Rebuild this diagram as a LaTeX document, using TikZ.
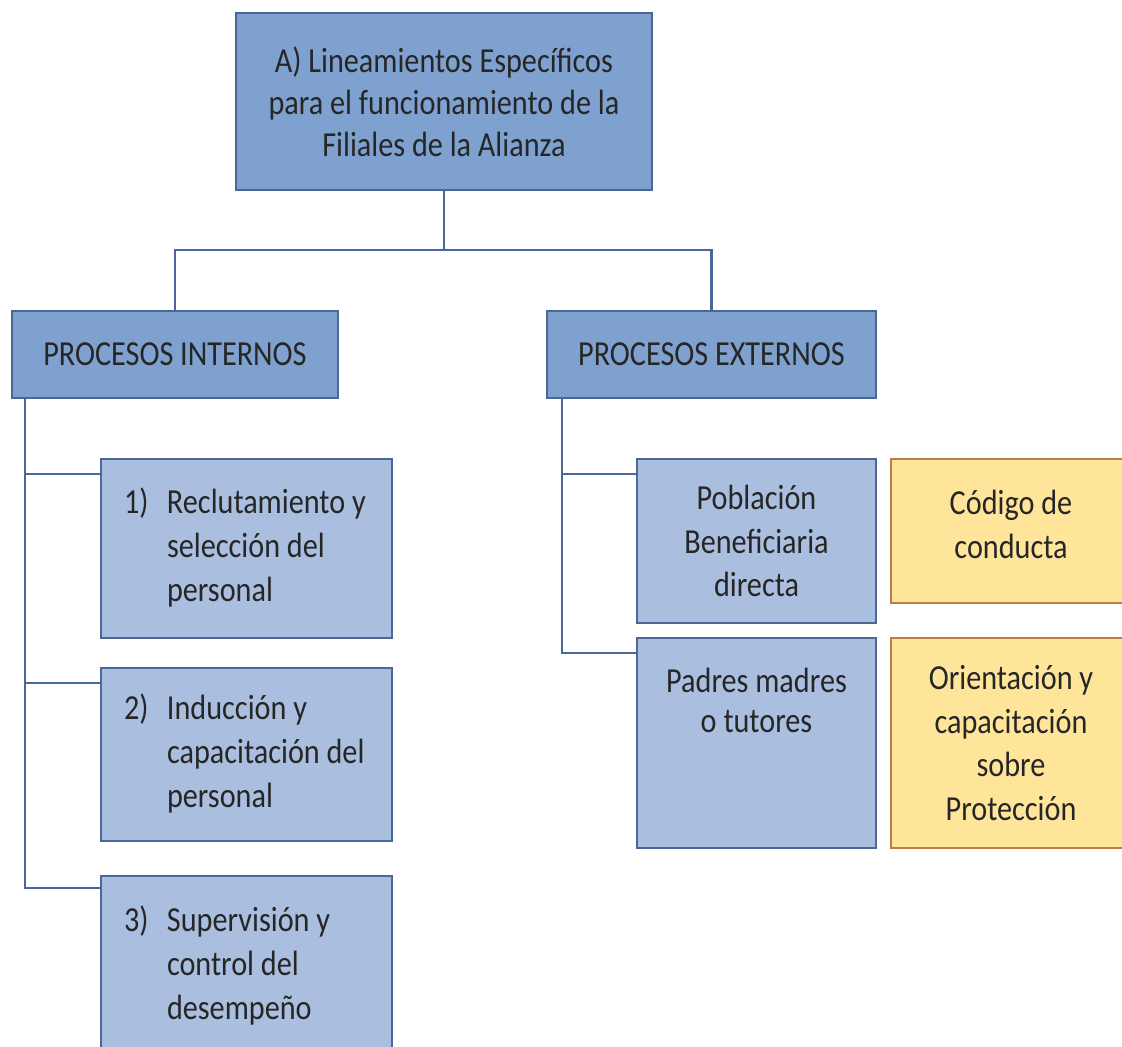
\documentclass[tikz,border=0pt]{standalone}
\usepackage{fontspec}
\setmainfont[FakeStretch=0.86]{Carlito}
\usetikzlibrary{positioning}

\definecolor{headfill}{HTML}{7FA1CF}
\definecolor{itemfill}{HTML}{AABFDF}
\definecolor{boxline}{HTML}{4A6797}
\definecolor{notefill}{HTML}{FFE59A}
\definecolor{noteline}{HTML}{C07A4C}
\definecolor{txt}{HTML}{262626}

% numbered entry with hanging text
\newcommand{\numlist}[1]{{\spaceskip=0pt\relax\begin{tabular}{@{}p{0.86cm}@{}l@{}}#1\end{tabular}}}

\begin{document}
\begin{tikzpicture}[x=0.02cm, y=-0.02cm,
	box/.style={draw=boxline, line width=1.1pt, text=txt, inner sep=0pt,
		font=\fontsize{20}{25}\selectfont},
	head/.style={box, fill=headfill},
	item/.style={box, fill=itemfill},
	note/.style={box, fill=notefill, draw=noteline, align=center},
	link/.style={draw=boxline, line width=1.2pt}]
	\useasboundingbox (0,0) rectangle (1122,1047);

	\node[head, minimum width=8.32cm, minimum height=3.54cm, align=center,
		font=\fontsize{20}{24}\selectfont] (lin) at (444,101.5)
		{A) Lineamientos Específicos\\para el funcionamiento de la\\Filiales de la Alianza};
	\node[head, minimum width=6.52cm, minimum height=1.74cm] (int) at (175,354.5) {PROCESOS INTERNOS};
	\node[head, minimum width=6.58cm, minimum height=1.74cm] (ext) at (711.5,354.5) {PROCESOS EXTERNOS};

	% procesos internos
	\node[item, minimum width=5.82cm, minimum height=3.58cm, inner xsep=0.46cm, text width=4.9cm, align=left] (rec) at (246.5,548.5)
		{\numlist{1) & Reclutamiento y\\ & selección del\\ & personal}};
	\node[item, minimum width=5.82cm, minimum height=3.46cm, inner xsep=0.46cm, text width=4.9cm, align=left] (ind) at (246.5,754.5)
		{\numlist{2) & Inducción y\\ & capacitación del\\ & personal}};
	\node[item, minimum width=5.82cm, minimum height=3.64cm, inner xsep=0.46cm, text width=4.9cm, align=left] (sup) at (246.5,967)
		{\numlist{3) & Supervisión y\\ & control del\\ & desempeño}};

	% procesos externos
	\node[item, minimum width=4.78cm, minimum height=3.28cm, align=center] (pob) at (756.5,541)
		{Población\\Beneficiaria\\directa};
	\node[item, minimum width=4.78cm, minimum height=4.2cm] (pad) at (756.5,743) {};
	\node[align=center, text=txt, font=\fontsize{20}{22.5}\selectfont, below=0.5cm of pad.north] (padtxt)
		{Padres madres\\o tutores};
	\node[note, minimum width=4.8cm, minimum height=2.88cm, text depth=0.26cm] (cod) at (1011,531) {Código de\\conducta};
	\node[note, minimum width=4.8cm, minimum height=4.2cm] (ori) at (1011,743)
		{Orientación y\\capacitación\\sobre\\Protección};

	\coordinate (split) at (444,250);
	\draw[link] (lin) to (split);
	\draw[link] (split) -| (int.north);
	\draw[link] (split) -| (ext.north);

	\coordinate (intspine) at ([xshift=0.28cm]int.south west);
	\draw[link] (intspine) |- ([yshift=-0.32cm]rec.north west);
	\draw[link] (intspine) |- ([yshift=-0.32cm]ind.north west);
	\draw[link] (intspine) |- ([yshift=-0.26cm]sup.north west);

	\coordinate (extspine) at ([xshift=0.32cm]ext.south west);
	\draw[link] (extspine) |- ([yshift=-0.32cm]pob.north west);
	\draw[link] (extspine) |- ([yshift=-0.32cm]pad.north west);
\end{tikzpicture}
\end{document}
